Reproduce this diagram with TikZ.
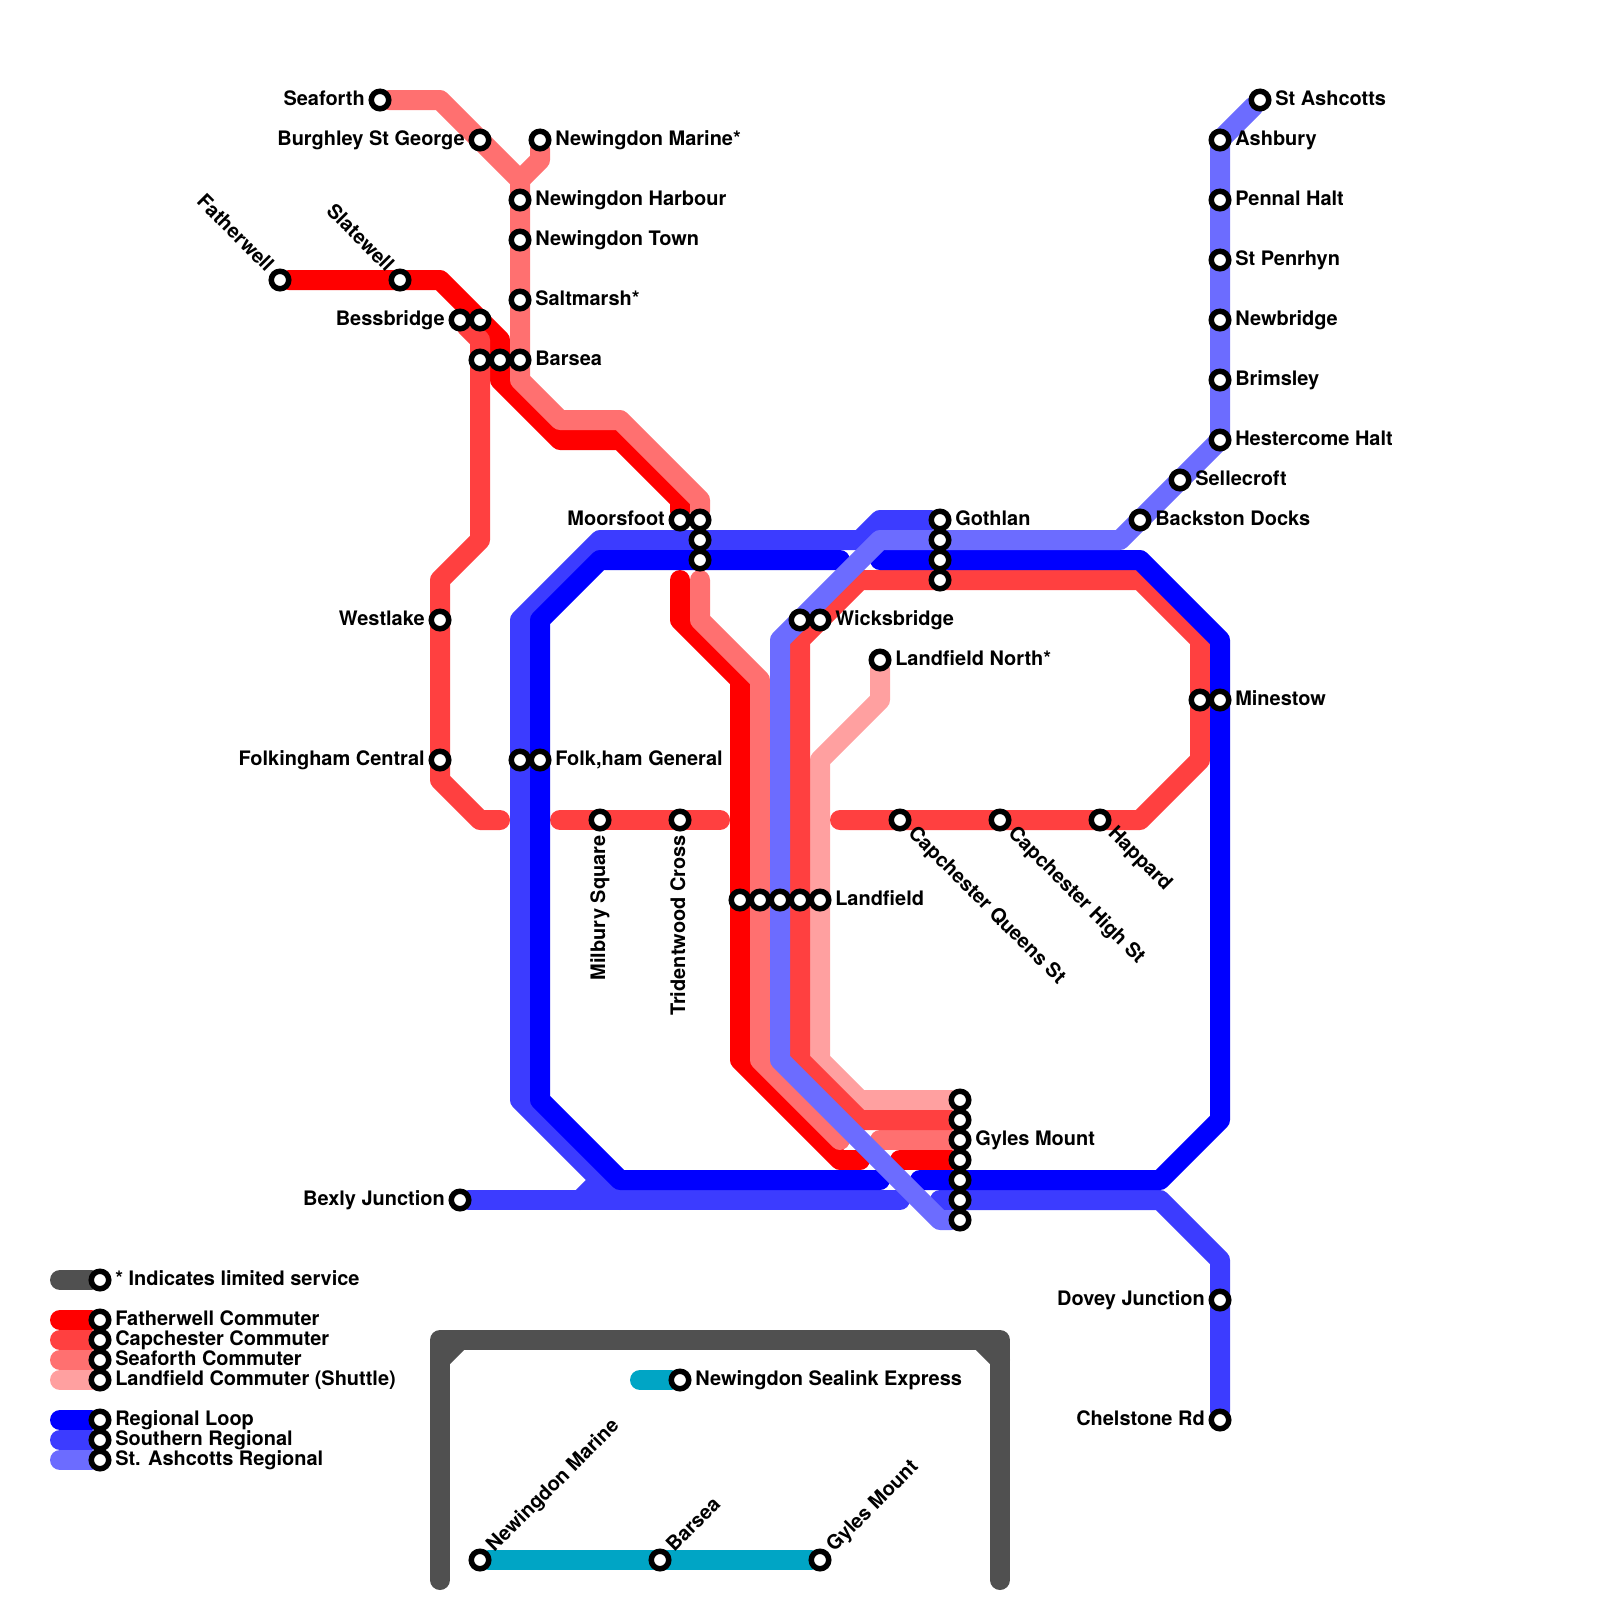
\documentclass[tikz,border=0pt]{standalone}
\usepackage{fontspec}
\setmainfont{TeX Gyre Heros}
\usetikzlibrary{backgrounds}
\definecolor{fathercol}{HTML}{FF0000}
\definecolor{capcol}{HTML}{FF4040}
\definecolor{seacol}{HTML}{FF7070}
\definecolor{landcol}{HTML}{FFA0A0}
\definecolor{loopcol}{HTML}{0000FF}
\definecolor{southcol}{HTML}{3C3CFF}
\definecolor{ashcol}{HTML}{6C6CFF}
\definecolor{greycol}{HTML}{505050}
\definecolor{sealcol}{HTML}{00A5C5}
\tikzset{
  metro/.style={line width=0.5cm, line cap=round, line join=round},
  stn/.style={circle, draw=black, fill=white, line width=0.1375cm, inner sep=0pt, outer sep=0pt, minimum size=0.4375cm},
  lbl/.style={inner sep=0pt, font=\bfseries\fontsize{14.2}{14.2}\selectfont},
  lblr/.style={lbl, anchor=base west, rotate=#1, xshift=0.375cm, yshift=-0.125cm},
  lblr/.default=0,
  lbll/.style={lbl, anchor=base east, rotate=#1, xshift=-0.375cm, yshift=-0.125cm},
  lbll/.default=0
}
\begin{document}
\begin{tikzpicture}[x=0.5cm, y=-0.5cm]
\useasboundingbox (0,0) rectangle (80,80);

% stations, Seaforth branch
\node[stn] (seaforth) at (19,5) {};
\node[stn] (burghley) at (24,7) {};
\node[stn] (marinestar) at (27,7) {};
\node[stn] (harbour) at (26,10) {};
\node[stn] (town) at (26,12) {};
\node[stn] (saltmarsh) at (26,15) {};
\node[stn] (barsea) at (26,18) {};
\node[stn] (moorsfootb) at (35,26) {};
\node[stn] (moorsfootc) at (35,27) {};
\node[stn] (moorsfootd) at (35,28) {};
% stations, Fatherwell branch
\node[stn] (fatherwell) at (14,14) {};
\node[stn] (slatewell) at (20,14) {};
\node[stn] (bessbridgeb) at (24,16) {};
\node[stn] (barseab) at (25,18) {};
\node[stn] (moorsfoot) at (34,26) {};
% stations, Capchester branch
\node[stn] (bessbridge) at (23,16) {};
\node[stn] (barseac) at (24,18) {};
\node[stn] (westlake) at (22,31) {};
\node[stn] (folkingham) at (22,38) {};
\node[stn] (milbury) at (30,41) {};
\node[stn] (tridentwood) at (34,41) {};
\node[stn] (queens) at (45,41) {};
\node[stn] (high) at (50,41) {};
\node[stn] (happard) at (55,41) {};
\node[stn] (minestowb) at (60,35) {};
\node[stn] (wicksbridge) at (41,31) {};
% stations, other branches
\node[stn] (landnorth) at (44,33) {};
\node[stn] (wicksbridgeb) at (40,31) {};
\node[stn] (folkhamb) at (26,38) {};
\node[stn] (folkham) at (27,38) {};
\node[stn] (minestow) at (61,35) {};
\node[stn] (landfielda) at (37,45) {};
\node[stn] (landfieldb) at (38,45) {};
\node[stn] (landfieldc) at (39,45) {};
\node[stn] (landfieldd) at (40,45) {};
\node[stn] (landfield) at (41,45) {};
\node[stn] (gothlan) at (47,26) {};
\node[stn] (gothlanb) at (47,27) {};
\node[stn] (gothlanc) at (47,28) {};
\node[stn] (gothland) at (47,29) {};
\node[stn] (gylesa) at (48,55) {};
\node[stn] (gylesb) at (48,56) {};
\node[stn] (gyles) at (48,57) {};
\node[stn] (gylesd) at (48,58) {};
\node[stn] (gylese) at (48,59) {};
\node[stn] (gylesf) at (48,60) {};
\node[stn] (gylesg) at (48,61) {};
\node[stn] (bexly) at (23,60) {};
\node[stn] (dovey) at (61,65) {};
\node[stn] (chelstone) at (61,71) {};
% St Ashcotts branch
\node[stn] (ashcotts) at (63,5) {};
\node[stn] (ashbury) at (61,7) {};
\node[stn] (pennal) at (61,10) {};
\node[stn] (penrhyn) at (61,13) {};
\node[stn] (newbridge) at (61,16) {};
\node[stn] (brimsley) at (61,19) {};
\node[stn] (hestercome) at (61,22) {};
\node[stn] (sellecroft) at (59,24) {};
\node[stn] (backston) at (57,26) {};
% inset
\node[stn] (sealkey) at (34,69) {};
\node[stn] (insetmarine) at (24,78) {};
\node[stn] (insetbarsea) at (33,78) {};
\node[stn] (insetgyles) at (41,78) {};
% legend
\node[stn] (keylimited) at (5,64) {};
\node[stn] (keyfather) at (5,66) {};
\node[stn] (keycap) at (5,67) {};
\node[stn] (keysea) at (5,68) {};
\node[stn] (keyland) at (5,69) {};
\node[stn] (keyloop) at (5,71) {};
\node[stn] (keysouth) at (5,72) {};
\node[stn] (keyash) at (5,73) {};

% free line ends
\coordinate (fathergapa) at (34,29);
\coordinate (fathergapb) at (43,58);
\coordinate (fathergapc) at (45,58);
\coordinate (capwest) at (25,41);
\coordinate (capmida) at (28,41);
\coordinate (capmidb) at (36,41);
\coordinate (capeast) at (42,41);
\coordinate (seagapa) at (35,29);
\coordinate (seagapb) at (42,57);
\coordinate (seagapc) at (44,57);
\coordinate (loopgapa) at (42,28);
\coordinate (loopgapb) at (44,28);
\coordinate (loopgapc) at (44,59);
\coordinate (loopgapd) at (46,59);
\coordinate (southgapa) at (45,60);
\coordinate (southgapb) at (47,60);
\coordinate (southjoin) at (30,59);
\coordinate (framel) at (22,79);
\coordinate (framer) at (50,79);
\coordinate (keystarta) at (3,64);
\coordinate (keystartb) at (3,66);
\coordinate (keystartc) at (3,67);
\coordinate (keystartd) at (3,68);
\coordinate (keystarte) at (3,69);
\coordinate (keystartf) at (3,71);
\coordinate (keystartg) at (3,72);
\coordinate (keystarth) at (3,73);
\coordinate (sealstart) at (32,69);

\begin{pgfonlayer}{background}
% legend bars
\draw[metro, greycol] (keystarta) -- (keylimited);
\draw[metro, fathercol] (keystartb) -- (keyfather);
\draw[metro, capcol] (keystartc) -- (keycap);
\draw[metro, seacol] (keystartd) -- (keysea);
\draw[metro, landcol] (keystarte) -- (keyland);
\draw[metro, loopcol] (keystartf) -- (keyloop);
\draw[metro, southcol] (keystartg) -- (keysouth);
\draw[metro, ashcol] (keystarth) -- (keyash);
% inset
\draw[metro, greycol] (framel) -- (22,67) -- (50,67) -- (framer);
\draw[metro, greycol] (22,68) -- (23,67);
\draw[metro, greycol] (49,67) -- (50,68);
\draw[metro, sealcol] (sealstart) -- (sealkey);
\draw[metro, sealcol] (insetmarine) -- (insetgyles);
% Landfield Commuter
\draw[metro, landcol] (landnorth) -- (44,35) -- (41,38) -- (41,53) -- (43,55) -- (gylesa);
% Fatherwell Commuter
\draw[metro, fathercol] (fatherwell) -- (22,14) -- (25,17) -- (25,19) -- (28,22) -- (31,22) -- (34,25) -- (moorsfoot);
\draw[metro, fathercol] (fathergapa) -- (34,31) -- (37,34) -- (37,53) -- (42,58) -- (fathergapb);
\draw[metro, fathercol] (fathergapc) -- (gylesd);
% Seaforth Commuter
\draw[metro, seacol] (seaforth) -- (22,5) -- (26,9) -- (26,19) -- (28,21) -- (31,21) -- (35,25) -- (moorsfootb);
\draw[metro, seacol] (marinestar) -- (27,8) -- (26,9);
\draw[metro, seacol] (seagapa) -- (35,31) -- (38,34) -- (38,53) -- (seagapb);
\draw[metro, seacol] (seagapc) -- (gyles);
% Capchester Commuter
\draw[metro, capcol] (bessbridge) -- (24,17) -- (24,27) -- (22,29) -- (22,39) -- (24,41) -- (capwest);
\draw[metro, capcol] (capmida) -- (capmidb);
\draw[metro, capcol] (capeast) -- (57,41) -- (60,38) -- (60,32) -- (57,29) -- (43,29) -- (40,32) -- (40,53) -- (43,56) -- (gylesb);
% Southern Regional
\draw[metro, southcol] (gothlan) -- (44,26) -- (43,27) -- (30,27) -- (26,31) -- (26,55) -- (31,60);
\draw[metro, southcol] (bexly) -- (southgapa);
\draw[metro, southcol] (29,60) -- (southjoin);
\draw[metro, southcol] (southgapb) -- (58,60) -- (61,63) -- (chelstone);
% Regional Loop
\draw[metro, loopcol] (loopgapd) -- (58,59) -- (61,56) -- (61,32) -- (57,28) -- (loopgapb);
\draw[metro, loopcol] (loopgapa) -- (30,28) -- (27,31) -- (27,55) -- (31,59) -- (loopgapc);
% St. Ashcotts Regional
\draw[metro, ashcol] (ashcotts) -- (61,7) -- (61,22) -- (56,27) -- (44,27) -- (39,32) -- (39,53) -- (47,61) -- (gylesg);
\end{pgfonlayer}

% labels
\node[lbll] (seaforthtext) at (seaforth) {Seaforth};
\node[lbll] (burghleytext) at (burghley) {Burghley St George};
\node[lblr] (marinetext) at (marinestar) {Newingdon Marine*};
\node[lblr] (harbourtext) at (harbour) {Newingdon Harbour};
\node[lblr] (towntext) at (town) {Newingdon Town};
\node[lblr] (saltmarshtext) at (saltmarsh) {Saltmarsh*};
\node[lblr] (barseatext) at (barsea) {Barsea};
\node[lbll=-45] (fatherwelltext) at (fatherwell) {Fatherwell};
\node[lbll=-45] (slatewelltext) at (slatewell) {Slatewell};
\node[lbll] (bessbridgetext) at (bessbridge) {Bessbridge};
\node[lbll] (moorsfoottext) at (moorsfoot) {Moorsfoot};
\node[lbll] (westlaketext) at (westlake) {Westlake};
\node[lbll] (folkinghamtext) at (folkingham) {Folkingham Central};
\node[lblr] (folkhamtext) at (folkham) {Folk,ham General};
\node[lbll=90] (milburytext) at (milbury) {Milbury Square};
\node[lbll=90] (tridentwoodtext) at (tridentwood) {Tridentwood Cross};
\node[lblr=-45] (queenstext) at (queens) {Capchester Queens St};
\node[lblr=-45] (hightext) at (high) {Capchester High St};
\node[lblr=-45] (happardtext) at (happard) {Happard};
\node[lblr] (landfieldtext) at (landfield) {Landfield};
\node[lblr] (wicksbridgetext) at (wicksbridge) {Wicksbridge};
\node[lblr] (landnorthtext) at (landnorth) {Landfield North*};
\node[lblr] (gothlantext) at (gothlan) {Gothlan};
\node[lblr] (gylestext) at (gyles) {Gyles Mount};
\node[lblr] (minestowtext) at (minestow) {Minestow};
\node[lbll] (bexlytext) at (bexly) {Bexly Junction};
\node[lbll] (doveytext) at (dovey) {Dovey Junction};
\node[lbll] (chelstonetext) at (chelstone) {Chelstone Rd};
\node[lblr] (ashcottstext) at (ashcotts) {St Ashcotts};
\node[lblr] (ashburytext) at (ashbury) {Ashbury};
\node[lblr] (pennaltext) at (pennal) {Pennal Halt};
\node[lblr] (penrhyntext) at (penrhyn) {St Penrhyn};
\node[lblr] (newbridgetext) at (newbridge) {Newbridge};
\node[lblr] (brimsleytext) at (brimsley) {Brimsley};
\node[lblr] (hestercometext) at (hestercome) {Hestercome Halt};
\node[lblr] (sellecrofttext) at (sellecroft) {Sellecroft};
\node[lblr] (backstontext) at (backston) {Backston Docks};
\node[lblr] (sealtext) at (sealkey) {Newingdon Sealink Express};
\node[lblr=45] (insetmarinetext) at (insetmarine) {Newingdon Marine};
\node[lblr=45] (insetbarseatext) at (insetbarsea) {Barsea};
\node[lblr=45] (insetgylestext) at (insetgyles) {Gyles Mount};
\node[lblr] (limitedtext) at (keylimited) {* Indicates limited service};
\node[lblr] (fathertext) at (keyfather) {Fatherwell Commuter};
\node[lblr] (captext) at (keycap) {Capchester Commuter};
\node[lblr] (seatext) at (keysea) {Seaforth Commuter};
\node[lblr] (landtext) at (keyland) {Landfield Commuter (Shuttle)};
\node[lblr] (looptext) at (keyloop) {Regional Loop};
\node[lblr] (southtext) at (keysouth) {Southern Regional};
\node[lblr] (ashtext) at (keyash) {St. Ashcotts Regional};
\end{tikzpicture}
\end{document}
